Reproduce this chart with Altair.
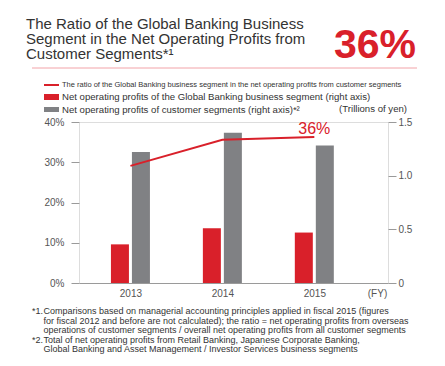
import altair as alt
import pandas as pd

# ---------------- data ----------------
years = [2013, 2014, 2015]
ratio_pct = [29.1, 35.6, 36.3]          # left axis (%)
gb_profit = [0.36, 0.51, 0.47]          # right axis (trillions of yen)
cust_profit = [1.22, 1.40, 1.28]        # right axis (trillions of yen)

left_ticks = [0, 10, 20, 30, 40]
right_ticks = [0, 0.5, 1.0, 1.5]

title_lines = [
    "The Ratio of the Global Banking Business",
    "Segment in the Net Operating Profits from",
    "Customer Segments*\u00b9",
]
headline = "36%"
legend_line = "The ratio of the Global Banking business segment in the net operating profits from customer segments"
legend_red = "Net operating profits of the Global Banking business segment (right axis)"
legend_gray = "Net operating profits of customer segments (right axis)*\u00b2"
unit_label = "(Trillions of yen)"
fy_label = "(FY)"
foot1_mark = "*1."
foot1_lines = [
    "Comparisons based on managerial accounting principles applied in fiscal 2015 (figures",
    "for fiscal 2012 and before are not calculated); the ratio = net operating profits from overseas",
    "operations of customer segments / overall net operating profits from all customer segments",
]
foot2_mark = "*2."
foot2_lines = [
    "Total of net operating profits from Retail Banking, Japanese Corporate Banking,",
    "Global Banking and Asset Management / Investor Services business segments",
]

# ---------------- style ----------------
RED = "#d9202a"
GRAY = "#808184"
TEXT = "#333333"
AXC = "#555555"
TICK = "#9a9a9a"
PINK = "#f2a3a8"
FONT = "Liberation Sans"
W, H = 309, 161

df = pd.DataFrame({"year": years, "ratio": ratio_pct, "gb": gb_profit, "cust": cust_profit})
one = pd.DataFrame({"k": [0]})

xscale = alt.Scale(domain=[2012.495, 2015.747], nice=False, zero=False)
x_axis = alt.Axis(values=years, format="d", ticks=False, grid=False, domainColor=TICK,
                  labelColor=AXC, labelFontSize=10, labelFont=FONT, labelPadding=5,
                  title=fy_label, titleX=298, titleY=10, titleAlign="center",
                  titleBaseline="middle", titleFontWeight="normal", titleFontSize=10,
                  titleColor=AXC, titleFont=FONT)
left_axis = alt.Axis(orient="left", values=left_ticks, labelExpr="datum.value + '%'",
                     title=None, grid=False, domain=False, tickSize=8, tickColor=TICK,
                     labelColor=AXC, labelFontSize=10, labelFont=FONT, labelPadding=7)
right_axis = alt.Axis(orient="right", values=right_ticks,
                      labelExpr="datum.value == 0 ? '0' : format(datum.value, '.1f')",
                      title=None, grid=False, domain=False, tickSize=8, tickColor=TICK,
                      labelColor=AXC, labelFontSize=10, labelFont=FONT, labelPadding=2)
yR = alt.Scale(domain=[0, 1.5], nice=False)
yL = alt.Scale(domain=[0, 40], nice=False)
X = alt.X("year:Q", scale=xscale, axis=x_axis)

bars_red = alt.Chart(df).mark_bar(width=18, xOffset=-10.5, color=RED, orient="vertical").encode(
    x=X,
    y=alt.Y("gb:Q", scale=yR, axis=right_axis),
)
bars_gray = alt.Chart(df).mark_bar(width=18, xOffset=10.5, color=GRAY, orient="vertical").encode(
    x=X,
    y=alt.Y("cust:Q", scale=yR, axis=None),
)
line = alt.Chart(df).mark_line(color=RED, strokeWidth=2).encode(
    x=X,
    y=alt.Y("ratio:Q", scale=yL, axis=left_axis),
)
last_label = alt.Chart(df).transform_filter(f"datum.year == {years[-1]}").transform_calculate(
    lab="format(round(datum.ratio), 'd') + '%'"
).mark_text(color=RED, fontSize=16, font=FONT, baseline="alphabetic", dy=-3).encode(
    x=X,
    y=alt.Y("ratio:Q", scale=yL, axis=None),
    text="lab:N",
)


def txt(text, x, y, **kw):
    return alt.Chart(one).mark_text(**kw).encode(x=alt.value(x), y=alt.value(y), text=alt.value(text))


def box(x, x2, y, y2, color):
    return alt.Chart(one).mark_rect(color=color).encode(
        x=alt.value(x), x2=alt.value(x2), y=alt.value(y), y2=alt.value(y2))


title = txt(title_lines, -53, -93, align="left", baseline="alphabetic", fontSize=15,
            font=FONT, color=TEXT, lineHeight=15.2)
head = txt(headline, 337, -64.5, align="right", baseline="alphabetic", fontSize=41,
           fontWeight="bold", font=FONT, color=RED)
sep = alt.Chart(one).mark_rule(color=PINK, strokeWidth=1).encode(
    x=alt.value(-47), x2=alt.value(338), y=alt.value(-54))

leg_line = alt.Chart(one).mark_rule(color=RED, strokeWidth=2).encode(
    x=alt.value(-35), x2=alt.value(-20), y=alt.value(-37))
leg_t1 = txt(legend_line, -17, -37, align="left", baseline="middle", fontSize=7.5,
             font=FONT, color=TEXT)
leg_r = box(-35, -20, -28, -22, RED)
leg_t2 = txt(legend_red, -17, -25, align="left", baseline="middle", fontSize=9.6,
             font=FONT, color=TEXT)
leg_g = box(-35, -20, -15, -10, GRAY)
leg_t3 = txt(legend_gray, -17, -12.5, align="left", baseline="middle", fontSize=9.6,
             font=FONT, color=TEXT)
unit = txt(unit_label, 328, -13, align="right", baseline="middle", fontSize=9.6,
           font=FONT, color=TEXT)

FS = 9
LH = 9.6
f1m = txt(foot1_mark, -47, 189, align="left", baseline="middle", fontSize=FS, font=FONT, color=TEXT)
f1b = txt(foot1_lines, -35.5, 189, align="left", baseline="middle", fontSize=FS, font=FONT,
          color=TEXT, lineHeight=LH)
f2m = txt(foot2_mark, -47, 189 + 3 * LH, align="left", baseline="middle", fontSize=FS, font=FONT, color=TEXT)
f2b = txt(foot2_lines, -35.5, 189 + 3 * LH, align="left", baseline="middle", fontSize=FS, font=FONT,
          color=TEXT, lineHeight=LH)

main = alt.layer(bars_red, bars_gray, line, last_label).resolve_scale(y="independent")

chart = alt.layer(
    main, title, head, sep, leg_line, leg_t1, leg_r, leg_t2, leg_g, leg_t3, unit,
    f1m, f1b, f2m, f2b
).properties(
    width=W, height=H,
    autosize=alt.AutoSizeParams(type="none"),
    padding={"left": 71, "top": 114, "right": 49, "bottom": 75},
).configure_view(stroke=None).configure(background="white")

chart.save("out.html", embed_options={"renderer": "svg", "actions": False})
